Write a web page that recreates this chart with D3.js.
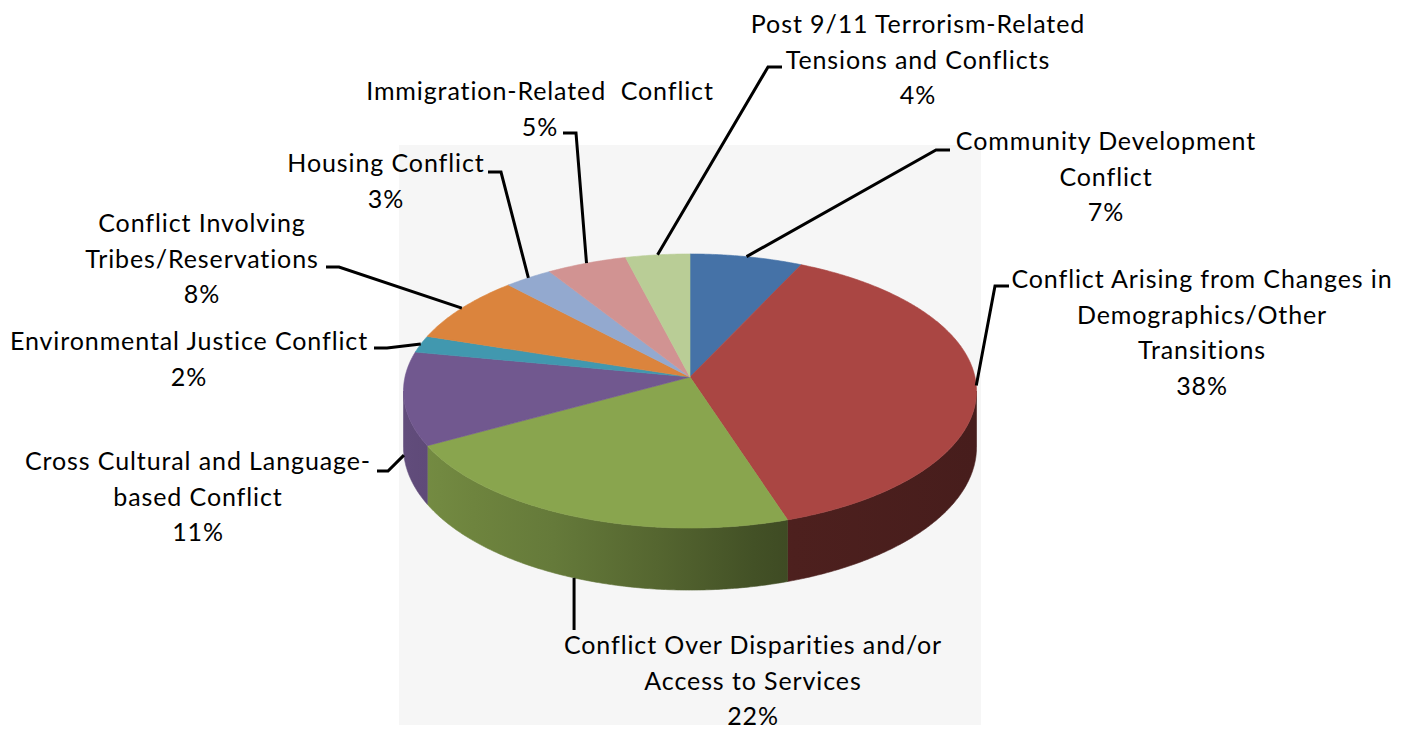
<!DOCTYPE html>
<html>
<head>
<meta charset="utf-8">
<script src="https://cdn.jsdelivr.net/npm/d3@7"></script>
<style>
  html, body { margin: 0; padding: 0; background: #ffffff; }
  svg { display: block; }
</style>
</head>
<body>
<svg id="chart" width="1411" height="734"></svg>
<script>
// Conflict types and their share of cases (percent), clockwise from 12 o'clock
const categories = [
  "Community Development Conflict",
  "Conflict Arising from Changes in Demographics/Other Transitions",
  "Conflict Over Disparities and/or Access to Services",
  "Cross Cultural and Language-based Conflict",
  "Environmental Justice Conflict",
  "Conflict Involving Tribes/Reservations",
  "Housing Conflict",
  "Immigration-Related Conflict",
  "Post 9/11 Terrorism-Related Tensions and Conflicts"
];
const shares = [7, 38, 22, 11, 2, 8, 3, 5, 4];
const sliceColors = ["#4572A7", "#AA4643", "#89A54E", "#71588F", "#4198AF",
                     "#DB843D", "#93A9CF", "#D19392", "#B9CD96"];

// Label text lines (the percentage line is appended from the share)
const labelLines = [
  ["Community Development", "Conflict"],
  ["Conflict Arising from Changes in", "Demographics/Other", "Transitions"],
  ["Conflict Over Disparities and/or", "Access to Services"],
  ["Cross Cultural and Language-", "based Conflict"],
  ["Environmental Justice Conflict"],
  ["Conflict Involving", "Tribes/Reservations"],
  ["Housing Conflict"],
  ["Immigration-Related  Conflict"],
  ["Post 9/11 Terrorism-Related", "Tensions and Conflicts"]
];

// Label placement: text centre, first baseline, leader elbow and leader end
const labelLayout = [
  { x: 1106, y: 150, elbow: [936, 150], end: [950, 150] },
  { x: 1202, y: 288, elbow: [995, 286], end: [1009, 286] },
  { x: 753,  y: 654, elbow: null,       end: [null, 630] },
  { x: 198,  y: 470, elbow: [388, 471], end: [377, 471] },
  { x: 189,  y: 350, elbow: [387, 348], end: [374, 348] },
  { x: 202,  y: 232, elbow: [339, 267], end: [326, 267] },
  { x: 386,  y: 172, elbow: [501, 172], end: [488, 172] },
  { x: 540,  y: 100, elbow: [576, 133], end: [563, 133] },
  { x: 918,  y: 33,  elbow: [768, 67],  end: [782, 67] }
];

// Side-wall brightness across the pie width (0 = left edge, 1 = right edge)
const sideShade = [[0, 0.86], [0.06, 0.83], [0.12, 0.80], [0.26, 0.74],
                   [0.44, 0.62], [0.61, 0.49], [0.68, 0.45], [1, 0.42]];

const W = 1411, H = 734;
const cx = 690, cy = 377;       // projected centre of the top face
const rx = 285, ry = 135.6;     // horizontal / vertical projection scale
const persp = 0.1022;           // perspective strength
const thick = 55.7;             // wall height
const lineGap = 35.5;

const svg = d3.select("#chart");
const defs = svg.append("defs");

// plot area
svg.append("rect")
  .attr("x", 399).attr("y", 145).attr("width", 582).attr("height", 580)
  .attr("fill", "#F6F6F6");

// project a point of the tilted disc: angle clockwise from 12 o'clock, k = radius fraction
function proj(theta, k = 1, down = 0) {
  const z = k * Math.cos(theta);
  const d = 1 + persp * z;
  return [cx + rx * k * Math.sin(theta) / d, cy - ry * z / d + down / d];
}
function arcPoints(a0, a1, down = 0) {
  const n = Math.max(2, Math.ceil((a1 - a0) / (Math.PI / 360)));
  return d3.range(n + 1).map(i => proj(a0 + (a1 - a0) * i / n, 1, down));
}

const pie = d3.pie().sort(null).value(d => d).startAngle(0).endAngle(2 * Math.PI);
const arcs = pie(shares);
const line = d3.line();

// side walls
const sil = Math.acos(-persp);
const leftX = cx - rx, rightX = cx + rx + 1;
arcs.forEach((a, i) => {
  const s0 = Math.max(a.startAngle, sil);
  const s1 = Math.min(a.endAngle, 2 * Math.PI - sil);
  if (s1 <= s0) return;
  const base = d3.rgb(sliceColors[i]);
  const g = defs.append("linearGradient")
    .attr("id", "side" + i)
    .attr("gradientUnits", "userSpaceOnUse")
    .attr("x1", leftX).attr("x2", rightX).attr("y1", 0).attr("y2", 0);
  sideShade.forEach(([o, f]) => {
    g.append("stop").attr("offset", o)
      .attr("stop-color", d3.rgb(base.r * f, base.g * f, base.b * f).formatHex());
  });
  const pts = arcPoints(s0, s1).concat(arcPoints(s0, s1, thick).reverse());
  svg.append("path")
    .attr("d", line(pts) + "Z")
    .attr("fill", `url(#side${i})`)
    .attr("stroke", `url(#side${i})`)
    .attr("stroke-width", 0.6);
});

// top faces
arcs.forEach((a, i) => {
  const pts = [[cx, cy]].concat(arcPoints(a.startAngle, a.endAngle));
  svg.append("path")
    .attr("d", line(pts) + "Z")
    .attr("fill", sliceColors[i])
    .attr("stroke", sliceColors[i])
    .attr("stroke-width", 0.6)
    .attr("stroke-linejoin", "round");
});

// leader lines
arcs.forEach((a, i) => {
  const mid = (a.startAngle + a.endAngle) / 2;
  const front = Math.cos(mid) < -0.1;
  const anchor = proj(mid, 1, front ? thick : 0);
  const L = labelLayout[i];
  const pts = L.elbow ? [anchor, L.elbow, L.end] : [anchor, [anchor[0], L.end[1]]];
  svg.append("path")
    .attr("d", line(pts))
    .attr("fill", "none")
    .attr("stroke", "#000")
    .attr("stroke-width", 3)
    .attr("stroke-linejoin", "miter");
});

// labels
arcs.forEach((a, i) => {
  const L = labelLayout[i];
  const lines = labelLines[i].concat([shares[i] + "%"]);
  const t = svg.append("text")
    .attr("x", L.x).attr("y", L.y)
    .attr("text-anchor", "middle")
    .attr("font-family", "Lato, 'Open Sans', sans-serif")
    .attr("font-size", 25)
    .attr("letter-spacing", 0.9)
    .attr("fill", "#000");
  lines.forEach((s, j) => {
    t.append("tspan").attr("x", L.x).attr("y", L.y + j * lineGap)
      .attr("xml:space", "preserve").text(s);
  });
});
</script>
</body>
</html>
